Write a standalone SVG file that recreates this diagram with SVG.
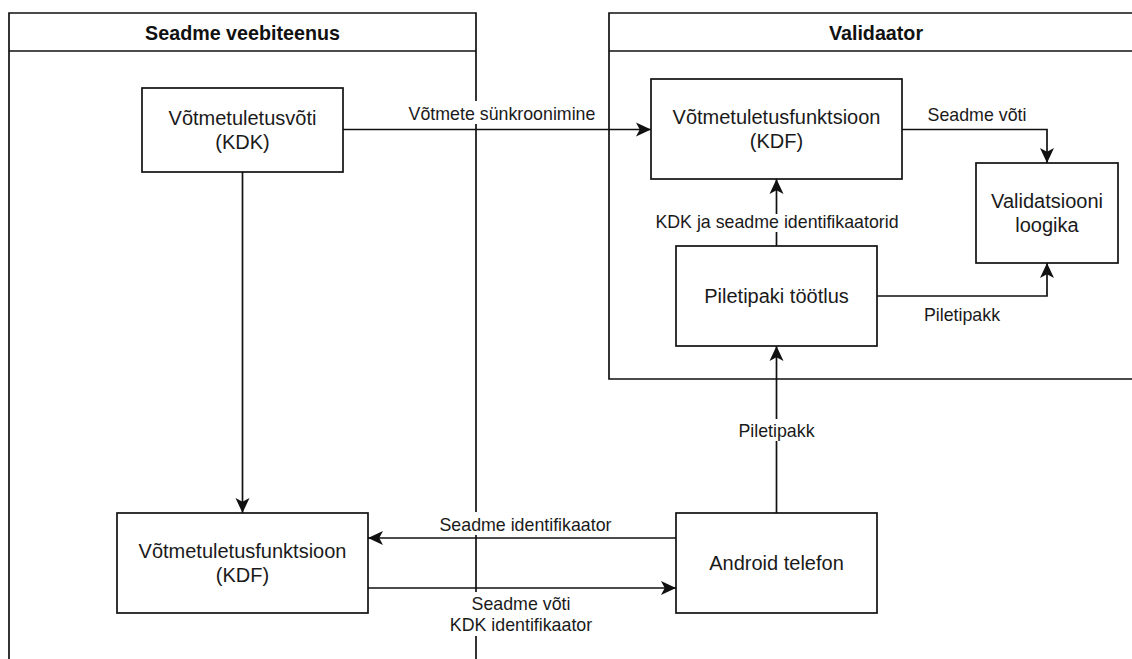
<svg xmlns="http://www.w3.org/2000/svg" width="1132" height="659" viewBox="0 0 1132 659">
<style>
.lane{fill:none;stroke:#111;stroke-width:1.7}
.box{fill:#fff;stroke:#111;stroke-width:1.7}
.edge{fill:none;stroke:#111;stroke-width:1.7;marker-end:url(#arr)}
.title{font-family:"Liberation Sans",Arial,sans-serif;font-size:19.7px;font-weight:bold;fill:#111;text-anchor:middle}
.ntext{font-family:"Liberation Sans",Arial,sans-serif;font-size:20px;fill:#1a1a1a;text-anchor:middle}
.ltext{font-family:"Liberation Sans",Arial,sans-serif;font-size:17.8px;fill:#1a1a1a;text-anchor:middle}
.lbg{fill:#fff;stroke:none}
</style>
<defs>
<marker id="arr" markerUnits="userSpaceOnUse" viewBox="-16 -8 17 16" refX="0" refY="0" markerWidth="17" markerHeight="16" orient="auto">
<path d="M0,0 L-15,-7 L-11.25,0 L-15,7 Z" fill="#111"/>
</marker>
</defs>
<rect width="1132" height="659" fill="#fff"/>
<g id="lane-seadme-veebiteenus">
<path class="lane" d="M9,659 V13 H476 V659"/>
<path class="lane" d="M9,51 H476"/>
<text class="title" x="242.5" y="39.5">Seadme veebiteenus</text>
</g>
<g id="lane-validaator">
<path class="lane" d="M1132,13 H609 V379 H1132"/>
<path class="lane" d="M609,51 H1132"/>
<text class="title" x="876" y="39.5">Validaator</text>
</g>
<g id="connectors">
<path class="edge" d="M343,129.5 H651"/>
<path class="edge" d="M242.5,172 V513"/>
<path class="edge" d="M676,538 H368"/>
<path class="edge" d="M368,588 H676"/>
<path class="edge" d="M776.5,513 V346"/>
<path class="edge" d="M776.5,246 V179"/>
<path class="edge" d="M902,129.5 H1047 V163"/>
<path class="edge" d="M877,296 H1047 V263"/>
<rect class="lbg" x="406" y="101" width="192" height="23"/>
<text class="ltext" x="502" y="120">Võtmete sünkroonimine</text>
<text class="ltext" x="977" y="120.5">Seadme võti</text>
<rect class="lbg" x="655" y="214" width="244" height="18"/>
<text class="ltext" x="777" y="227.5">KDK ja seadme identifikaatorid</text>
<text class="ltext" x="962" y="320.5">Piletipakk</text>
<rect class="lbg" x="739" y="419" width="75" height="22"/>
<text class="ltext" x="776.5" y="436.5">Piletipakk</text>
<rect class="lbg" x="439" y="512" width="173" height="23"/>
<text class="ltext" x="525.5" y="531">Seadme identifikaator</text>
<rect class="lbg" x="444" y="592" width="156" height="44"/>
<text class="ltext" x="521" y="609.5">Seadme võti</text>
<text class="ltext" x="521" y="630.5">KDK identifikaator</text>
</g>
<g id="node-kdk">
<rect class="box" x="142" y="88" width="201" height="84"/>
<text class="ntext" x="242.5" y="125">Võtmetuletusvõti</text>
<text class="ntext" x="242.5" y="149">(KDK)</text>
</g>
<g id="node-kdf-server">
<rect class="box" x="117" y="513" width="251" height="100"/>
<text class="ntext" x="242.5" y="558">Võtmetuletusfunktsioon</text>
<text class="ntext" x="242.5" y="582">(KDF)</text>
</g>
<g id="node-kdf-validaator">
<rect class="box" x="651" y="79" width="251" height="100"/>
<text class="ntext" x="776.5" y="124">Võtmetuletusfunktsioon</text>
<text class="ntext" x="776.5" y="148">(KDF)</text>
</g>
<g id="node-validatsiooni-loogika">
<rect class="box" x="976" y="163" width="142" height="100"/>
<text class="ntext" x="1047" y="208">Validatsiooni</text>
<text class="ntext" x="1047" y="232">loogika</text>
</g>
<g id="node-piletipaki-tootlus">
<rect class="box" x="676" y="246" width="201" height="100"/>
<text class="ntext" x="776.5" y="303">Piletipaki töötlus</text>
</g>
<g id="node-android-telefon">
<rect class="box" x="676" y="513" width="201" height="100"/>
<text class="ntext" x="776.5" y="570">Android telefon</text>
</g>
</svg>
